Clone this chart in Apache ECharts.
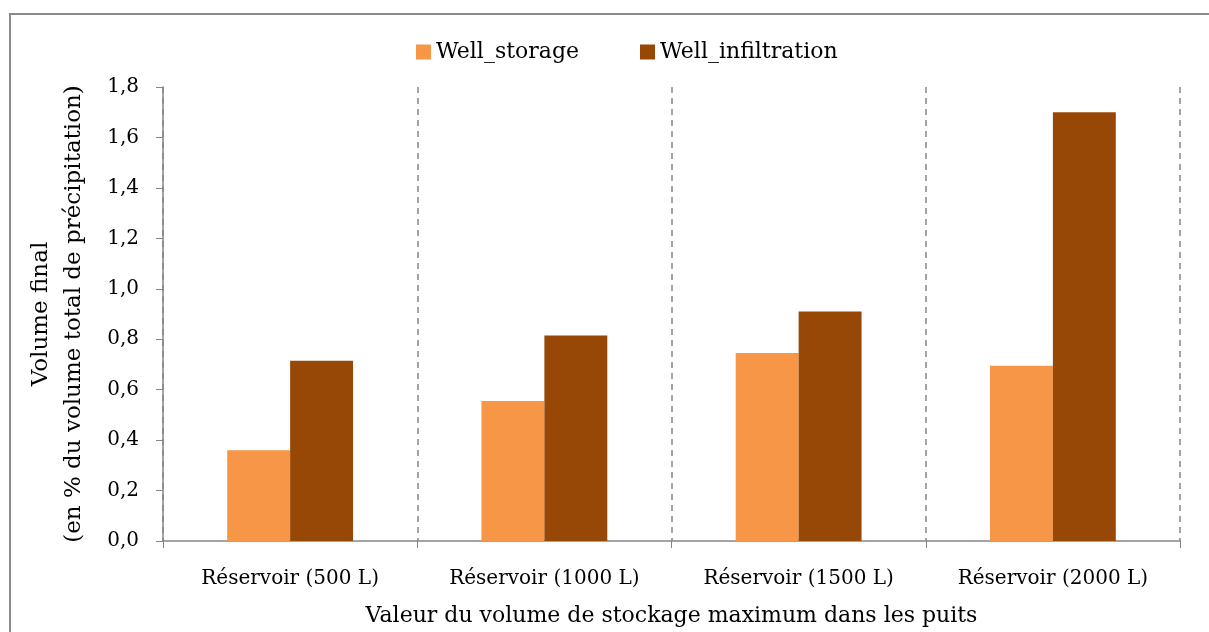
<!DOCTYPE html>
<html><head><meta charset="utf-8">
<script src="https://cdn.jsdelivr.net/npm/echarts@6/dist/echarts.min.js"></script>
<style>html,body{margin:0;padding:0;background:#fff}#c{width:1209px;height:632px}</style>
</head><body><div id="c"></div>
<script>
const categories = ['Réservoir (500 L)', 'Réservoir (1000 L)', 'Réservoir (1500 L)', 'Réservoir (2000 L)'];
const wellStorage = [0.36, 0.555, 0.745, 0.695];
const wellInfiltration = [0.715, 0.815, 0.91, 1.70];
const seriesNames = ['Well_storage', 'Well_infiltration'];
const yTitle = 'Volume final\n(en % du volume total de précipitation)';
const xTitle = 'Valeur du volume de stockage maximum dans les puits';

const FONT = 'DejaVu Serif';
const GREY = '#868686';
const chart = echarts.init(document.getElementById('c'), null, {renderer: 'canvas'});
chart.setOption({
  animation: false,
  backgroundColor: '#fff',
  textStyle: {fontFamily: FONT, color: '#000'},
  graphic: [{type: 'rect', shape: {x: 10, y: 14, width: 1300, height: 700},
    style: {fill: 'none', stroke: '#8a8a8a', lineWidth: 2}, silent: true}],
  legend: {
    left: 411, top: 36, itemWidth: 15, itemHeight: 15, itemGap: 61, icon: 'rect',
    textStyle: {fontFamily: FONT, fontSize: 22, color: '#000'},
    data: seriesNames
  },
  grid: {left: 163, right: 29, top: 87, bottom: 91, containLabel: false},
  xAxis: {
    type: 'category', data: categories,
    name: xTitle, nameLocation: 'middle', nameGap: 64,
    nameTextStyle: {fontFamily: FONT, fontSize: 22, color: '#000'},
    axisLine: {lineStyle: {color: GREY, width: 1.5}},
    axisTick: {show: true, length: 7, lineStyle: {color: GREY}},
    axisLabel: {fontFamily: FONT, fontSize: 20, color: '#000', margin: 28, interval: 0},
    splitLine: {show: true, lineStyle: {color: GREY, type: [6, 5], width: 1.5}}
  },
  yAxis: {
    type: 'value', min: 0, max: 1.8, interval: 0.2,
    name: yTitle, nameLocation: 'middle', nameGap: 72, nameRotate: 90,
    nameTextStyle: {fontFamily: FONT, fontSize: 23, color: '#000', lineHeight: 33, align: 'center'},
    axisLine: {show: true, lineStyle: {color: GREY, width: 1.5}},
    axisTick: {show: true, length: 7, lineStyle: {color: GREY}},
    axisLabel: {fontFamily: FONT, fontSize: 20, color: '#000', margin: 24,
      formatter: v => v.toFixed(1).replace('.', ',')},
    splitLine: {show: false}
  },
  series: [
    {name: seriesNames[0], type: 'bar', data: wellStorage, barGap: '0%', barCategoryGap: '50.5%',
     itemStyle: {color: '#F79646'}},
    {name: seriesNames[1], type: 'bar', data: wellInfiltration,
     itemStyle: {color: '#974806'}}
  ]
});
</script></body></html>
